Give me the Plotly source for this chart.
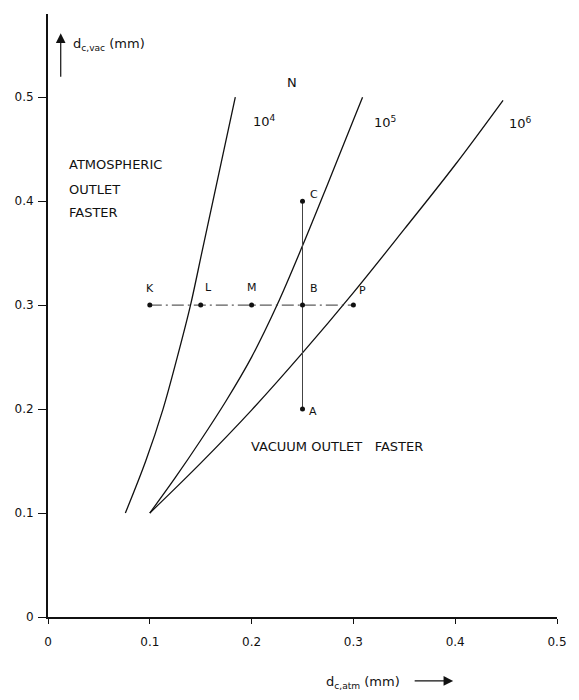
import plotly.graph_objects as go

# Curves (d_c,atm, d_c,vac) for N = 10^4, 10^5, 10^6
n4_x = [0.076, 0.096, 0.113, 0.127, 0.140, 0.151, 0.162, 0.173, 0.184]
n4_y = [0.100, 0.150, 0.200, 0.250, 0.300, 0.350, 0.400, 0.450, 0.500]
n5_x = [0.100, 0.125, 0.150, 0.175, 0.200, 0.225, 0.250, 0.275, 0.300, 0.309]
n5_y = [0.100, 0.134, 0.170, 0.208, 0.250, 0.300, 0.357, 0.417, 0.478, 0.500]
n6_x = [0.100, 0.150, 0.200, 0.250, 0.300, 0.350, 0.400, 0.447]
n6_y = [0.100, 0.148, 0.199, 0.254, 0.312, 0.373, 0.435, 0.497]

# Points
pt_names = ["K", "L", "M", "B", "P", "C", "A"]
pt_x = [0.10, 0.15, 0.20, 0.25, 0.30, 0.25, 0.25]
pt_y = [0.30, 0.30, 0.30, 0.30, 0.30, 0.40, 0.20]

ticks = [0, 0.1, 0.2, 0.3, 0.4, 0.5]
tick_text = ["0", "0.1", "0.2", "0.3", "0.4", "0.5"]

FONT = "DejaVu Sans"
BLK = "#111111"

fig = go.Figure()
for xs, ys in [(n4_x, n4_y), (n5_x, n5_y), (n6_x, n6_y)]:
    fig.add_trace(go.Scatter(x=xs, y=ys, mode="lines", line=dict(color=BLK, width=1.3, shape="spline", smoothing=1.0),
                             showlegend=False, hoverinfo="skip"))

# horizontal K-P dash-dot line
fig.add_trace(go.Scatter(x=[pt_x[0], pt_x[4]], y=[pt_y[0], pt_y[4]], mode="lines",
                         line=dict(color="#333333", width=1, dash="12px,4px,2px,4px"),
                         showlegend=False, hoverinfo="skip"))
# vertical C-A line
fig.add_trace(go.Scatter(x=[pt_x[5], pt_x[6]], y=[pt_y[5], pt_y[6]], mode="lines",
                         line=dict(color="#444444", width=1),
                         showlegend=False, hoverinfo="skip"))
fig.add_trace(go.Scatter(x=pt_x, y=pt_y, mode="markers", marker=dict(color=BLK, size=5),
                         showlegend=False, hoverinfo="skip"))

ann = []
offs = {"K": (0.0, 0.016, "center"), "L": (0.002, 0.017, "left"), "M": (0.0, 0.017, "center"),
        "B": (0.005, 0.016, "left"), "P": (0.004, 0.014, "left"), "C": (0.005, 0.006, "left"),
        "A": (0.004, -0.002, "left")}
for n, x, y in zip(pt_names, pt_x, pt_y):
    dx, dy, anc = offs[n]
    ann.append(dict(x=x + dx, y=y + dy, text=n, showarrow=False, xanchor=anc, yanchor="middle",
                    font=dict(family=FONT, size=11, color=BLK)))

for txt, x, y in [("10<sup>4</sup>", 0.213, 0.477), ("10<sup>5</sup>", 0.331, 0.476),
                  ("10<sup>6</sup>", 0.464, 0.475), ("N", 0.24, 0.514)]:
    ann.append(dict(x=x, y=y, text=txt, showarrow=False, xanchor="center", yanchor="middle",
                    font=dict(family=FONT, size=13, color=BLK)))

for txt, y in [("ATMOSPHERIC", 0.435), ("OUTLET", 0.411), ("FASTER", 0.389)]:
    ann.append(dict(x=0.019, y=y, text=txt, showarrow=False, xanchor="left", yanchor="middle",
                    font=dict(family=FONT, size=13, color=BLK)))
ann.append(dict(x=0.1975, y=0.164, text="VACUUM OUTLET   FASTER", showarrow=False, xanchor="left",
                yanchor="middle", font=dict(family=FONT, size=13, color=BLK)))

# axis labels with arrows
ann.append(dict(x=0.046, y=0.949, xref="paper", yref="paper", text="d<sub>c,vac</sub> (mm)",
                showarrow=False, xanchor="left", yanchor="middle", font=dict(family=FONT, size=13, color=BLK)))
ann.append(dict(x=0.025, y=0.968, xref="paper", yref="paper", text="", showarrow=True,
                ax=0, ay=45, arrowhead=2, arrowsize=1.6, arrowwidth=1.2, arrowcolor=BLK))
ann.append(dict(x=0.543, y=-0.109, xref="paper", yref="paper", text="d<sub>c,atm</sub> (mm)",
                showarrow=False, xanchor="left", yanchor="middle", font=dict(family=FONT, size=13, color=BLK)))
ann.append(dict(x=0.796, y=-0.106, xref="paper", yref="paper", text="", showarrow=True,
                ax=-40, ay=0, arrowhead=2, arrowsize=1.6, arrowwidth=1.2, arrowcolor=BLK))

fig.update_layout(
    width=579, height=700,
    margin=dict(l=48, r=12, t=14, b=83),
    paper_bgcolor="white", plot_bgcolor="white",
    annotations=ann,
    xaxis=dict(range=[0, 0.5], tickvals=ticks, ticktext=tick_text, showgrid=False, zeroline=False,
               showline=True, linecolor=BLK, linewidth=1.5, ticks="outside", ticklen=5, tickcolor=BLK,
               ticklabelstandoff=8, tickfont=dict(family=FONT, size=12, color=BLK)),
    yaxis=dict(range=[0, 0.58], tickvals=ticks, ticktext=tick_text, showgrid=False, zeroline=False,
               showline=True, linecolor=BLK, linewidth=1.8, ticks="outside", ticklen=8, tickcolor=BLK,
               ticklabelstandoff=2, tickfont=dict(family=FONT, size=12, color=BLK)),
)

fig.write_html("out.html")
